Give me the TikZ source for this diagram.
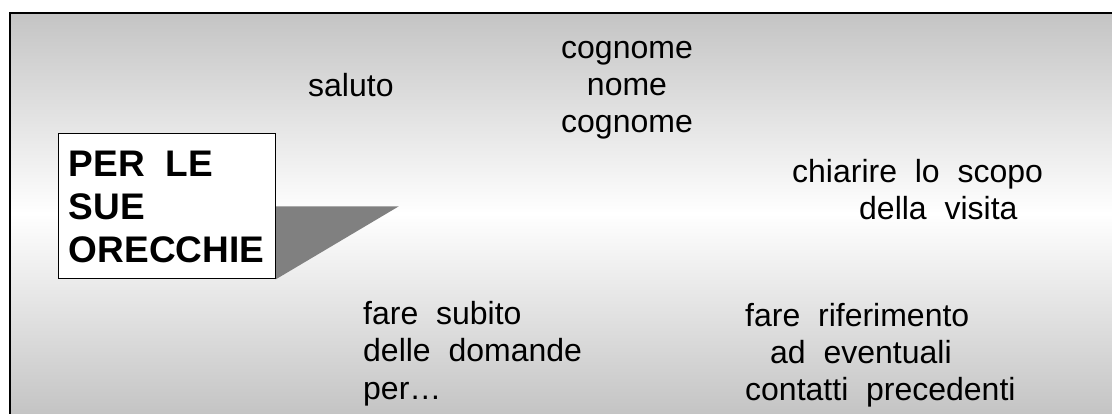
\documentclass[tikz,border=0pt]{standalone}
\usepackage{fontspec}
\setmainfont{Liberation Sans}
\usetikzlibrary{positioning,backgrounds}
\definecolor{mgrey}{HTML}{C4C4C4}
\definecolor{mdark}{HTML}{808080}
\tikzstyle{l1}=[line width=2pt]
\tikzstyle{txt}=[inner sep=0pt, anchor=base west, align=left, font=\fontsize{32}{37}\selectfont]
\tikzstyle{ears}=[draw=black, fill=white, line width=1pt, minimum width=217pt, minimum height=145pt, inner sep=0pt, align=left, font=\fontsize{37}{43}\selectfont\bfseries]
\begin{document}
\begin{tikzpicture}[x=1pt,y=-1pt]
    \useasboundingbox (0,0) rectangle (1112,414);
    \clip (0,0) rectangle (1112,414);

    \node[ears] at (166.5,206.5) (ears) {PER~~LE\\SUE\\ORECCHIE};

    \node[txt] at (308,97) (saluto) {saluto};
    \node[txt, align=center, anchor=base] at (627,133) (nome) {cognome\\nome\\cognome};
    \node[txt] at (792,220) (scopo) {chiarire~~lo~~scopo\\\hspace*{67pt}della~~visita};
    \node[txt] at (363,399) (domande) {fare~~subito\\delle~~domande\\per…};
    \node[txt] at (745,400) (contatti) {fare~~riferimento\\\hspace*{25pt}ad~~eventuali\\contatti~~precedenti};

    % background panel and pointer
    \begin{pgfonlayer}{background}
        \shade[top color=mgrey, bottom color=mgrey, middle color=white] (10,13) rectangle (1112,414);
        \draw[l1] (10,430) -- (10,13) -- (1130,13);
        \fill[mdark] (ears.east) -- ++(123,0) -- (ears.south east) -- cycle;
    \end{pgfonlayer}
\end{tikzpicture}
\end{document}
